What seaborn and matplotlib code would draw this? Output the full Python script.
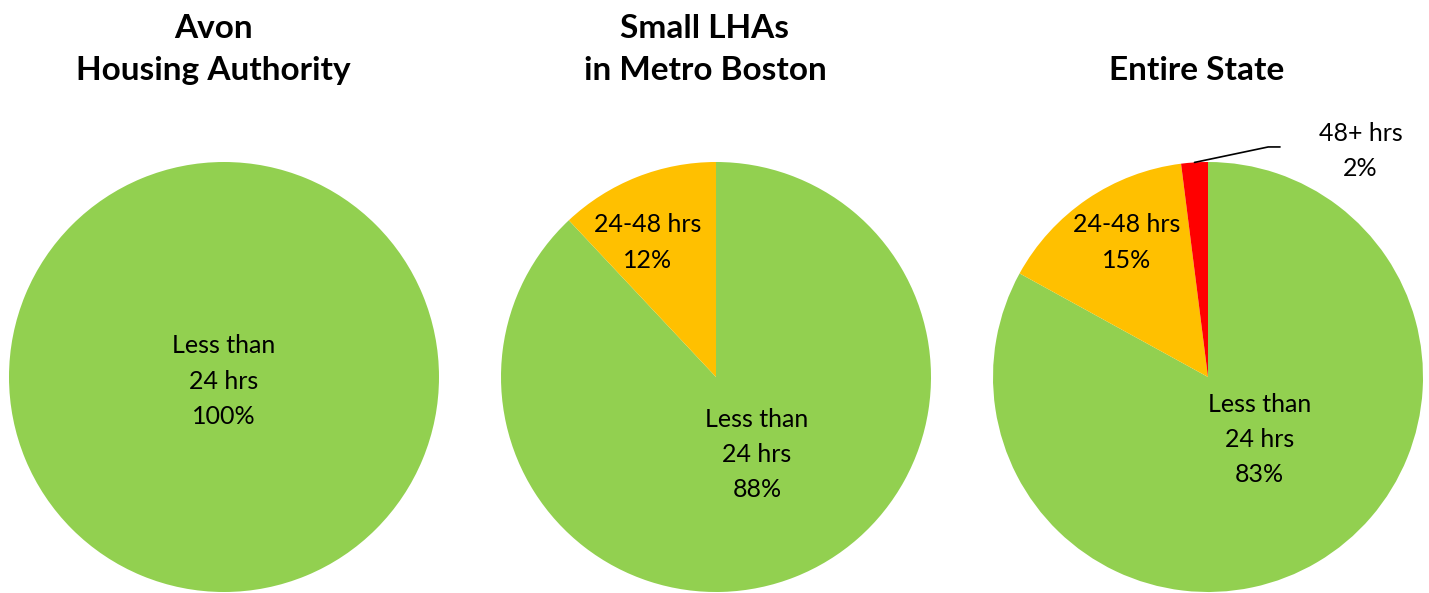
import numpy as np
import matplotlib.pyplot as plt
import seaborn as sns

sns.set_theme(style="white")
plt.rcParams['font.family'] = ['Lato', 'DejaVu Sans']

titles = ['Avon\nHousing Authority', 'Small LHAs\nin Metro Boston', 'Entire State']
categories = ['Less than\n24 hrs', '24-48 hrs', '48+ hrs']
values = [
    [100, 0, 0],
    [88, 12, 0],
    [83, 15, 2],
]
colors = ['#92D050', '#FFC000', '#FF0000']

# label offsets (data units, pie radius = 1)
label_pos = [
    {0: (0.0, -0.02)},
    {0: (0.19, -0.36), 1: (-0.32, 0.625)},
    {0: (0.24, -0.29), 1: (-0.38, 0.625), 2: (0.71, 1.05)},
]

W, H = 1429, 593
fig = plt.figure(figsize=(W / 100, H / 100), dpi=100)

centers_x = [224, 716, 1208]
cy, r = 377, 215

for i, cx in enumerate(centers_x):
    ax = fig.add_axes([(cx - r) / W, (H - cy - r) / H, 2 * r / W, 2 * r / H])
    vals = [v for v in values[i] if v > 0]
    cols = [c for v, c in zip(values[i], colors) if v > 0]
    wedges, _ = ax.pie(vals, colors=cols, startangle=90, counterclock=False,
                       radius=1, wedgeprops=dict(linewidth=0))
    ax.set_xlim(-1, 1)
    ax.set_ylim(-1, 1)
    ax.set_aspect('equal')
    ax.axis('off')
    for j, v in enumerate(vals):
        x, y = label_pos[i][j]
        ax.text(x, y, f'{categories[j]}\n{v}%', ha='center', va='center',
                fontsize=18, color='black', linespacing=1.65, clip_on=False)
    if len(vals) == 3:
        w = wedges[2]
        ang = np.deg2rad((w.theta1 + w.theta2) / 2)
        x0, y0 = np.cos(ang), np.sin(ang)
        ax.plot([x0, 0.28, 0.335], [y0, 1.07, 1.07], color='black', lw=1.2, clip_on=False)
    # titles sit a little left of the pie centre, bottom-aligned
    fig.text((cx - 11) / W, 1 - 85 / H, titles[i], ha='center', va='bottom',
             fontsize=24, fontweight='bold', color='black', linespacing=1.55)

fig.savefig('out.png', dpi=100)
